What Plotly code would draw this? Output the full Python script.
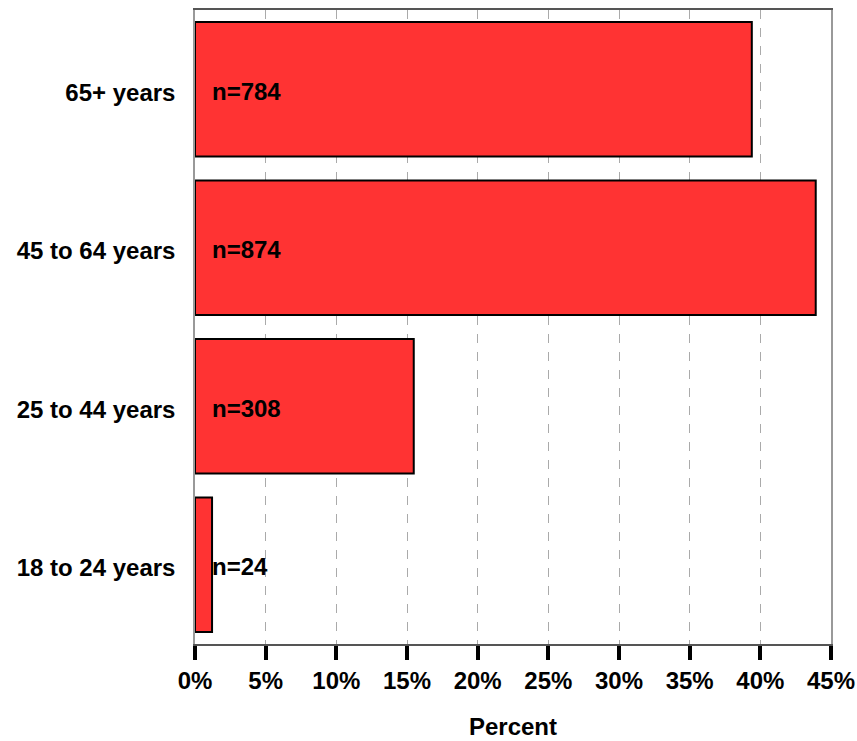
import plotly.graph_objects as go

categories = ["18 to 24 years", "25 to 44 years", "45 to 64 years", "65+ years"]
counts = [24, 308, 874, 784]
total = sum(counts)
percents = [c / total * 100 for c in counts]
labels = [f"n={c}" for c in counts]
tick_vals = [0, 5, 10, 15, 20, 25, 30, 35, 40, 45]
tick_text = [f"{v}%" for v in tick_vals]

font_family = "Liberation Sans, Arial, sans-serif"
FS = 24

fig = go.Figure()
fig.add_trace(go.Bar(
    y=categories, x=percents, orientation="h",
    marker=dict(color="#FF3333", line=dict(color="black", width=2)),
    hoverinfo="skip",
))

for cat, lab in zip(categories, labels):
    fig.add_annotation(x=0, y=cat, text=lab, showarrow=False,
                       xanchor="left", xshift=15, yshift=-2,
                       font=dict(family=font_family, size=FS, color="black", weight="bold"))

fig.update_layout(
    width=857, height=741,
    margin=dict(l=195, r=26, t=10, b=97, autoexpand=False),
    plot_bgcolor="white", paper_bgcolor="white",
    bargap=0.15, showlegend=False,
    font=dict(family=font_family, size=FS, color="black"),
    xaxis=dict(
        range=[0, 45], tickvals=tick_vals, ticktext=tick_text,
        showgrid=True, gridcolor="#AAAAAA", griddash="dash", gridwidth=1,
        ticks="outside", ticklen=14, tickwidth=4, tickcolor="black",
        showline=True, linecolor="#555555", linewidth=1.5, mirror=True,
        tickfont=dict(family=font_family, size=FS, color="black", weight="bold"),
        title=dict(text="Percent", standoff=26,
                   font=dict(family=font_family, size=FS, color="black", weight="bold")),
        zeroline=False, fixedrange=True, automargin=False,
    ),
    yaxis=dict(
        showgrid=False, ticks="", showline=True, linecolor="#999999", linewidth=1.5,
        mirror=True, ticklabelstandoff=13, ticklabelshift=3,
        tickfont=dict(family=font_family, size=FS, color="black", weight="bold"),
        fixedrange=True, automargin=False,
    ),
)

fig.write_html("out.html", config={"displayModeBar": False},
               post_script="document.body.style.margin='0';document.body.style.overflow='hidden';")
